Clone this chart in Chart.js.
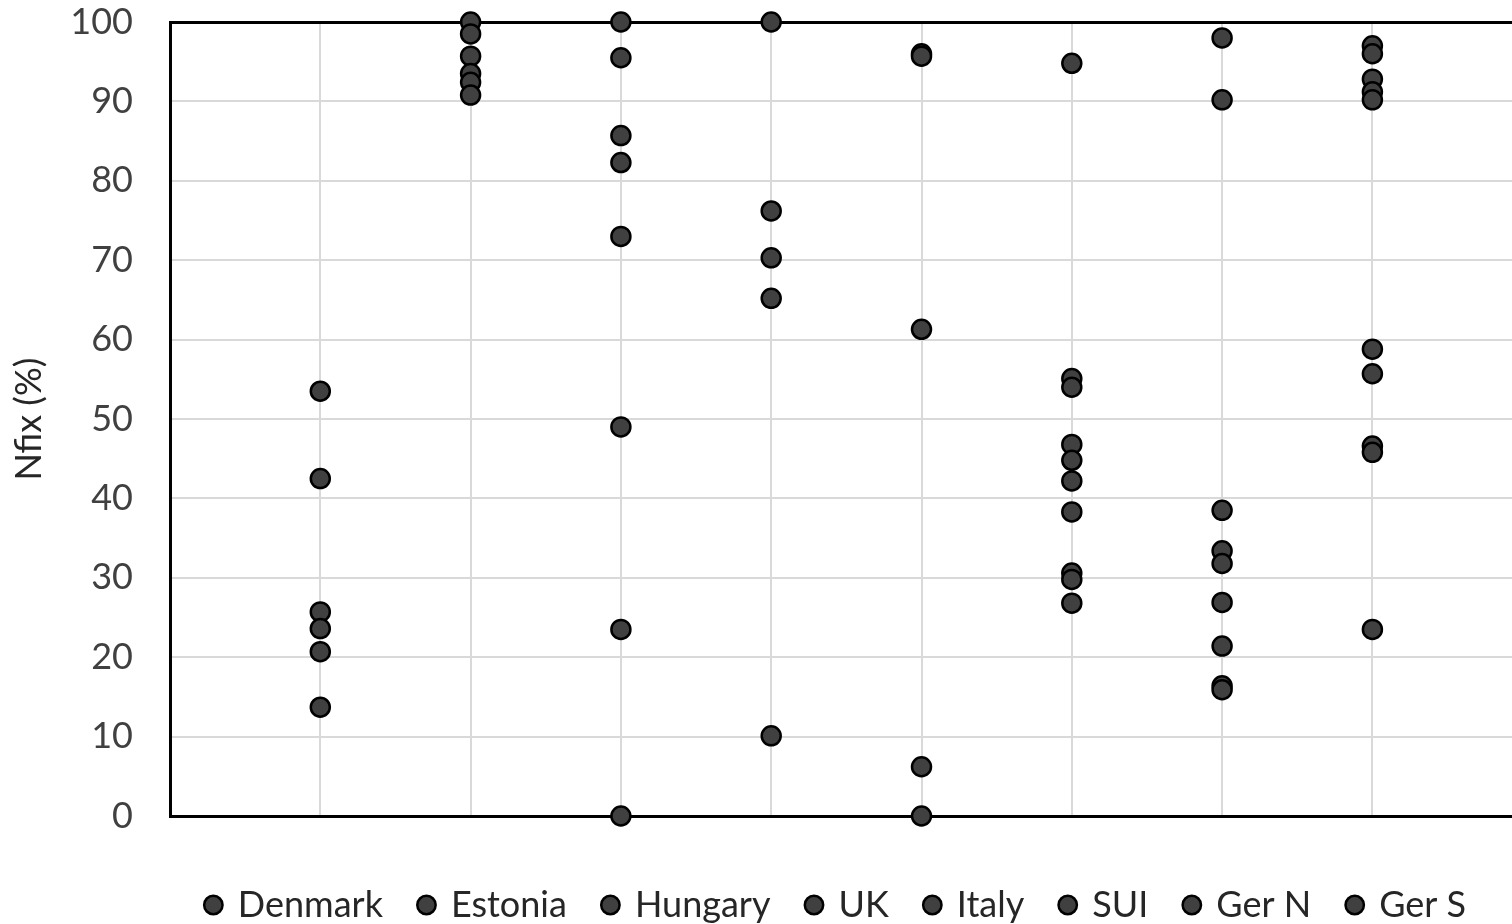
<!DOCTYPE html>
<html>
<head>
<meta charset="utf-8">
<script src="https://cdn.jsdelivr.net/npm/chart.js@4/dist/chart.umd.min.js"></script>
<style>
html,body{margin:0;padding:0;background:#fff;overflow:hidden;width:1512px;height:924px;}
#wrap{position:absolute;left:0;top:0;width:1680px;height:924px;}
</style>
</head>
<body>
<div id="wrap"><canvas id="c" width="1680" height="924"></canvas></div>
<script>
const categories = ["Denmark","Estonia","Hungary","UK","Italy","SUI","Ger N","Ger S"];
const denmark = [53.5, 42.5, 25.7, 23.6, 20.7, 13.7];
const estonia = [100, 98.5, 95.7, 93.5, 92.4, 90.8];
const hungary = [100, 95.5, 85.7, 82.3, 73.0, 49.0, 23.5, 0];
const uk      = [100, 76.2, 70.3, 65.2, 10.1];
const italy   = [96.0, 95.7, 61.3, 6.2, 0];
const sui     = [94.8, 55.1, 54.0, 46.8, 44.8, 42.2, 38.3, 30.6, 29.8, 26.8];
const gerN    = [98.0, 90.2, 38.5, 33.4, 31.8, 26.9, 21.4, 16.4, 15.9];
const gerS    = [97.0, 96.0, 92.8, 91.2, 90.2, 58.8, 55.7, 46.6, 45.8, 23.5];
const seriesValues = [denmark, estonia, hungary, uk, italy, sui, gerN, gerS];
const yTicks = [0,10,20,30,40,50,60,70,80,90,100];

const FONT = "Lato";
const datasets = categories.map((name, i) => ({
  label: name,
  data: seriesValues[i].map(v => ({x: i + 1, y: v})),
  backgroundColor: "#404040",
  borderColor: "#000000",
  borderWidth: 2.5,
  pointRadius: 9.5,
  pointHoverRadius: 9.5,
  pointStyle: "circle",
  clip: false
}));

new Chart(document.getElementById("c"), {
  type: "scatter",
  data: { datasets },
  options: {
    responsive: false,
    animation: false,
    layout: { autoPadding: false, padding: { left: 0, right: 7, top: 22, bottom: -9 } },
    plugins: {
      tooltip: { enabled: false },
      legend: {
        position: "bottom",
        labels: {
          usePointStyle: true,
          boxWidth: 13,
          boxHeight: 13,
          padding: 37,
          color: "#262626",
          font: { family: FONT, size: 36 }
        }
      }
    },
    scales: {
      x: {
        type: "linear",
        min: 0, max: 10,
        afterFit: s => { s.height = 34; },
        ticks: { display: false, stepSize: 1 },
        grid: {
          drawTicks: false,
          color: ctx => ctx.tick && ctx.tick.value === 0 ? "rgba(0,0,0,0)" : "#d9d9d9",
          lineWidth: 2
        },
        border: { display: true, color: "#000", width: 3 }
      },
      y: {
        min: 0, max: 100,
        afterFit: s => { s.width = 170; },
        afterBuildTicks: s => { s.ticks = yTicks.map(v => ({value: v})); },
        ticks: {
          padding: 0,
          color: "#404040",
          font: { family: FONT, size: 36 }
        },
        grid: {
          drawTicks: true,
          tickLength: 37,
          tickColor: "rgba(0,0,0,0)",
          color: ctx => (ctx.tick && (ctx.tick.value === 100)) ? "#000" : (ctx.tick && ctx.tick.value === 0 ? "rgba(0,0,0,0)" : "#d9d9d9"),
          lineWidth: ctx => (ctx.tick && ctx.tick.value === 100) ? 3 : 2
        },
        border: { display: true, color: "#000", width: 3 },
        title: {
          display: true,
          text: "Nfix (%)",
          color: "#262626",
          font: { family: FONT, size: 36 },
          padding: { top: 8, bottom: 0 }
        }
      }
    }
  }
});
</script>
</body>
</html>
